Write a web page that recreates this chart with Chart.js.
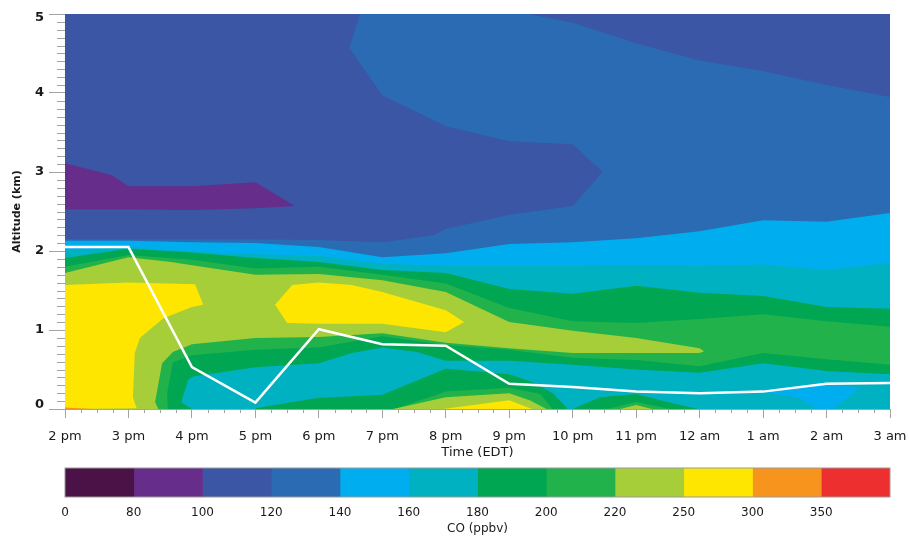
<!DOCTYPE html>
<html>
<head>
<meta charset="utf-8">
<title>CO curtain</title>
<script src="https://cdn.jsdelivr.net/npm/chart.js@4"></script>
<style>
html, body { margin: 0; padding: 0; background: #fff; }
canvas { position: absolute; left: 0; }
#curtain { top: 0; }
#colorbar { top: 460px; }
</style>
</head>
<body>
<canvas id="curtain" width="909" height="460"></canvas>
<canvas id="colorbar" width="909" height="76"></canvas>
<script>
// axis labels
const timeLabels = ['2 pm', '3 pm', '4 pm', '5 pm', '6 pm', '7 pm', '8 pm', '9 pm', '10 pm', '11 pm', '12 am', '1 am', '2 am', '3 am'];
const levelLabels = ['0', '80', '100', '120', '140', '160', '180', '200', '220', '250', '300', '350', ''];
const levelColors = ['#4a1246', '#662d8a', '#3a56a5', '#2a6bb3', '#00aeef', '#00b1c1', '#00a651', '#22b24c', '#a6ce39', '#fee600', '#f7941e', '#ed2f2f'];
const levelSpans = [1, 1, 1, 1, 1, 1, 1, 1, 1, 1, 1, 1];

// aircraft altitude (km) at each hour
const flightAltitude = [2.05, 2.05, 0.53, 0.08, 1.01, 0.82, 0.80, 0.32, 0.28, 0.22, 0.20, 0.22, 0.32, 0.33];

// contour outlines, [hours after 2 pm, km]
const co80 = [[0, 3.11], [0.74, 2.96], [1, 2.82], [2, 2.82], [3, 2.87], [3.62, 2.57], [3, 2.54], [2, 2.52], [1, 2.53], [0, 2.53]];
const co120 = [[0, 2.15], [1, 2.15], [2, 2.15], [3, 2.15], [4, 2.14], [5, 2.11], [5.81, 2.20], [6, 2.28], [7, 2.46], [8, 2.57], [8.47, 3.0], [8, 3.35], [7, 3.39], [6, 3.58], [5, 3.97], [4.48, 4.57], [4.65, 5], [7.31, 5], [8, 4.89], [9, 4.63], [10, 4.41], [11, 4.28], [12, 4.10], [13, 3.95], [13, 0], [0, 0]];
const co140 = [[0, 2.13], [1, 2.13], [2, 2.11], [3, 2.10], [4, 2.05], [5, 1.92], [6, 1.97], [7, 2.09], [8, 2.11], [9, 2.16], [10, 2.25], [11, 2.39], [12, 2.37], [13, 2.48], [13, 0], [0, 0]];
const co160 = [[0, 2.01], [1, 2.05], [2, 1.99], [3, 1.96], [4, 1.94], [5, 1.84], [6, 1.81], [7, 1.81], [8, 1.81], [9, 1.82], [10, 1.81], [11, 1.83], [12, 1.76], [13, 1.85], [13, 0], [0, 0]];
const co180 = [[0, 1.91], [1, 2.03], [2, 1.98], [3, 1.91], [4, 1.86], [5, 1.76], [6, 1.72], [7, 1.52], [8, 1.46], [9, 1.56], [10, 1.47], [11, 1.43], [12, 1.29], [13, 1.27], [13, 0], [0, 0]];
const co200 = [[0, 1.80], [1, 1.95], [2, 1.89], [3, 1.78], [4, 1.80], [5, 1.70], [6, 1.59], [7, 1.28], [8, 1.11], [9, 1.09], [10, 1.14], [11, 1.20], [12, 1.11], [13, 1.04], [13, 0], [0, 0]];
const co220 = [[0, 1.72], [1, 1.92], [1.67, 1.86], [2, 1.82], [3, 1.70], [4, 1.71], [5, 1.63], [6, 1.48], [7, 1.10], [8, 0.99], [9, 0.90], [10, 0.77], [10.07, 0.73], [10, 0.71], [8, 0.71], [7, 0.77], [6, 0.84], [5, 0.96], [4, 0.91], [3, 0.90], [2, 0.82], [1.70, 0.72], [1.53, 0.58], [1.42, 0.09], [1.47, 0], [0, 0]];
const co250a = [[0, 1.57], [1, 1.60], [2.05, 1.58], [2.18, 1.32], [2, 1.29], [1.55, 1.15], [1.18, 0.90], [1.10, 0.71], [1.07, 0.15], [1.13, 0.01], [0, 0]];
const co250b = [[3.31, 1.32], [3.58, 1.57], [4, 1.60], [4.52, 1.57], [5, 1.48], [6, 1.25], [6.29, 1.10], [6, 0.97], [5, 1.08], [4, 1.08], [3.50, 1.09]];
const co300 = [[0, 0.02], [0.44, 0], [0, 0]];
const lobe180 = [[1.62, 0.03], [1.61, 0.20], [1.70, 0.59], [2, 0.68], [3, 0.75], [4, 0.78], [5, 0.92], [6, 0.81], [7, 0.75], [8, 0.65], [9, 0.62], [10, 0.54], [11, 0.71], [12, 0.63], [13, 0.56], [13, 0], [1.62, 0]];
const lobe160 = [[1.84, 0.08], [1.84, 0.11], [1.94, 0.37], [2.02, 0.41], [3, 0.53], [4, 0.58], [4.52, 0.71], [5, 0.78], [5.55, 0.72], [6, 0.61], [7, 0.61], [8, 0.56], [9, 0.50], [10, 0.46], [11, 0.58], [12, 0.48], [13, 0.44], [13, 0], [2, 0]];
const low180a = [[3, 0.01], [3.9, 0.13], [4, 0.14], [5, 0.18], [6, 0.51], [7, 0.44], [7.37, 0.34], [7.69, 0.20], [7.91, 0.01], [7.91, 0], [3, 0]];
const low180b = [[8, 0], [8.43, 0.15], [9, 0.19], [9.49, 0.09], [9.97, 0]];
const low200a = [[5.2, 0], [6, 0.22], [7, 0.27], [7.49, 0.19], [7.68, 0]];
const low200b = [[8.54, 0], [9, 0.09], [9.54, 0]];
const low220a = [[5.17, 0], [6, 0.15], [7, 0.20], [7.32, 0.11], [7.59, 0]];
const low220b = [[8.75, 0], [9, 0.05], [9.25, 0]];
const low250 = [[5.96, 0], [7, 0.11], [7.36, 0]];
const low140 = [[11, 0.215], [12, 0.31], [12.53, 0.27], [12.1, 0], [11.85, 0], [11.56, 0.14]];

const FONT = "'DejaVu Sans', sans-serif";
const TICK_GREY = '#a3a3a3';

// painter's order, later outlines cover earlier ones
const outlines = [
    [co80, 1], [co120, 3], [co140, 4], [co160, 5], [co180, 6], [co200, 7], [co220, 8],
    [co250a, 9], [co250b, 9], [co300, 10], [lobe180, 6], [lobe160, 5],
    [low180a, 6], [low180b, 6], [low200a, 7], [low200b, 7], [low220a, 8], [low220b, 8], [low250, 9], [low140, 4]
];

const contourDatasets = outlines.map(([pts, level]) => ({
    label: 'CO ' + levelLabels[level],
    data: pts.map(p => ({ x: p[0], y: p[1] })),
    showLine: false,
    pointRadius: 0,
    contourColor: levelColors[level]
}));

// fills the contour outlines from the points the scales placed
const contourFill = {
    id: 'contourFill',
    beforeDatasetsDraw(chart) {
        const { ctx, chartArea: a } = chart;
        ctx.save();
        ctx.beginPath();
        ctx.rect(a.left, a.top, a.right - a.left, a.bottom - a.top);
        ctx.clip();
        ctx.fillStyle = levelColors[2];
        ctx.fillRect(a.left, a.top, a.right - a.left, a.bottom - a.top);
        chart.data.datasets.forEach((ds, i) => {
            if (!ds.contourColor) return;
            const pts = chart.getDatasetMeta(i).data;
            ctx.beginPath();
            pts.forEach((p, k) => k ? ctx.lineTo(p.x, p.y) : ctx.moveTo(p.x, p.y));
            ctx.closePath();
            ctx.fillStyle = ds.contourColor;
            ctx.fill();
        });
        ctx.restore();
    }
};

// short ticks between the labelled ones
const minorTicks = {
    id: 'minorTicks',
    afterLayout(chart) {
        // end labels sit inside the box
        chart.scales.y.getLabelItems().forEach(item => {
            if (item.label === '5') item.options.translation[1] += 4;
            if (item.label === '0') item.options.translation[1] -= 4;
        });
    },
    afterDraw(chart) {
        const { ctx, chartArea: a, scales: { x, y } } = chart;
        ctx.save();
        ctx.strokeStyle = TICK_GREY;
        ctx.lineWidth = 1;
        ctx.beginPath();
        for (let i = 0; i <= 52; i++) {
            if (i % 4 === 0) continue;
            const px = Math.round(x.getPixelForValue(i / 4)) + 0.5;
            ctx.moveTo(px, a.bottom);
            ctx.lineTo(px, a.bottom + 4);
        }
        for (let i = 0; i <= 50; i++) {
            if (i % 10 === 0) continue;
            const py = Math.round(y.getPixelForValue(i / 10)) + 0.5;
            ctx.moveTo(a.left - 8, py);
            ctx.lineTo(a.left, py);
        }
        ctx.stroke();
        ctx.restore();
    }
};

new Chart(document.getElementById('curtain'), {
    type: 'scatter',
    data: {
        datasets: [
            ...contourDatasets,
            {
                label: 'Flight altitude',
                data: flightAltitude.map((v, i) => ({ x: i, y: v })),
                showLine: true,
                borderColor: '#ffffff',
                borderWidth: 2.5,
                pointRadius: 0,
                tension: 0
            }
        ]
    },
    options: {
        responsive: false,
        animation: false,
        layout: { padding: { top: 14, right: 19 } },
        plugins: { legend: { display: false }, tooltip: { enabled: false } },
        scales: {
            x: {
                type: 'linear',
                min: 0,
                max: 13,
                afterFit: s => { s.height = 51; s.paddingLeft = 0; s.paddingRight = 0; },
                grid: { drawOnChartArea: false, tickLength: 9, tickColor: TICK_GREY },
                border: { color: TICK_GREY },
                ticks: {
                    stepSize: 1,
                    padding: 11,
                    maxRotation: 0,
                    autoSkip: false,
                    color: '#1a1a1a',
                    font: { family: FONT, size: 13 },
                    callback: v => timeLabels[v]
                },
                title: { display: true, text: 'Time (EDT)', color: '#1a1a1a', padding: { top: 0, bottom: 0 }, font: { family: FONT, size: 13 } }
            },
            y: {
                min: 0,
                max: 5,
                afterFit: s => { s.width = 65; },
                grid: { drawOnChartArea: false, tickLength: 16, tickColor: TICK_GREY },
                border: { color: TICK_GREY },
                ticks: {
                    stepSize: 1,
                    padding: 5,
                    color: '#1a1a1a',
                    font: { family: FONT, size: 13, weight: 'bold' }
                },
                title: { display: true, text: 'Altitude (km)', color: '#1a1a1a', padding: { top: 11, bottom: 0 }, font: { family: FONT, size: 11, weight: 'bold' } }
            }
        }
    },
    plugins: [contourFill, minorTicks]
});

// colour key
const keyFrame = {
    id: 'keyFrame',
    afterDatasetsDraw(chart) {
        const { ctx, chartArea: a } = chart;
        ctx.save();
        ctx.strokeStyle = '#9a9a9a';
        ctx.lineWidth = 1;
        ctx.strokeRect(a.left, a.top, a.right - a.left, a.bottom - a.top);
        ctx.restore();
    }
};

new Chart(document.getElementById('colorbar'), {
    type: 'bar',
    data: {
        labels: ['CO'],
        datasets: levelSpans.map((span, i) => ({
            label: levelLabels[i],
            data: [span],
            backgroundColor: levelColors[i],
            barPercentage: 1,
            categoryPercentage: 1,
            borderWidth: 0
        }))
    },
    options: {
        indexAxis: 'y',
        responsive: false,
        animation: false,
        layout: { padding: { top: 8, left: 65, right: 19 } },
        plugins: { legend: { display: false }, tooltip: { enabled: false } },
        scales: {
            x: {
                type: 'linear',
                stacked: true,
                min: 0,
                max: 12,
                afterFit: s => { s.height = 39; },
                grid: { display: false },
                border: { display: false },
                ticks: {
                    stepSize: 1,
                    padding: 1,
                    maxRotation: 0,
                    autoSkip: false,
                    color: '#1a1a1a',
                    font: { family: FONT, size: 12 },
                    callback: v => levelLabels[v]
                },
                title: { display: true, text: 'CO (ppbv)', color: '#1a1a1a', padding: { top: 0, bottom: 0 }, font: { family: FONT, size: 12 } }
            },
            y: { stacked: true, display: false }
        }
    },
    plugins: [keyFrame]
});
</script>
</body>
</html>
